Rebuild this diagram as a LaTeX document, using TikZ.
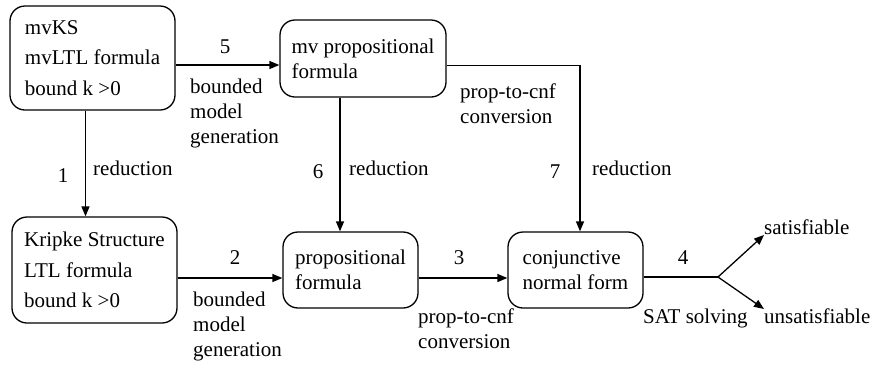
\documentclass[tikz,border=0pt]{standalone}
\usepackage{fontspec}
\setmainfont{Liberation Serif}
\usetikzlibrary{arrows.meta}
\begin{document}
\begin{tikzpicture}[x=1pt,y=-1pt,
  every node/.style={font=\fontsize{21}{25}\selectfont},
  box/.style={draw,line width=1.3pt,rounded corners=15pt,align=left,inner sep=0pt},
  bigbox/.style={box,font=\fontsize{21}{30.5}\selectfont},
  lbl/.style={inner sep=0pt,align=left},
  arr/.style={line width=1.3pt,-{Triangle[length=10pt,width=8pt]}},
  ln/.style={line width=1.3pt}]
\useasboundingbox (0,0) rectangle (872,365);
% boxes
\node[bigbox,minimum width=165pt,minimum height=104pt] (A) at (92.5,58) {mvKS\\mvLTL formula\\bound k >0};
\node[box,minimum width=166pt,minimum height=77pt] (B) at (363,58.5) {mv propositional\\formula};
\node[bigbox,minimum width=165pt,minimum height=106pt] (C) at (94.5,270) {Kripke Structure\\LTL formula\\bound k >0};
\node[box,minimum width=135pt,minimum height=76pt] (D) at (350.5,270) {propositional\\formula};
\node[box,minimum width=135pt,minimum height=76pt] (E) at (575.5,270) {conjunctive\\normal form};
\node[lbl,anchor=south west] (sat) at (764,235) {satisfiable};
\node[lbl,anchor=north west] (unsat) at (764,309) {unsatisfiable};
\coordinate (split) at (718,277);
% connectors
\draw[arr] ([yshift=-7pt]A.east) -- ([yshift=-7pt]A.east -| B.west);
\draw[arr] ([xshift=-7pt]A.south) -- ([xshift=-7pt]A.south |- C.north);
\draw[arr] ([yshift=-8pt]C.east) -- ([yshift=-8pt]C.east -| D.west);
\draw[arr] ([xshift=-23pt]B.south) -- ([xshift=-23pt]B.south |- D.north);
\draw[arr] ([yshift=-8pt]D.east) -- ([yshift=-8pt]D.east -| E.west);
\draw[arr] ([yshift=-7pt]B.east) -| ([xshift=4.5pt]E.north);
\draw[ln] ([yshift=-7pt]E.east) -- (split);
\draw[arr] (split) -- (sat.south west);
\draw[arr] (split) -- (unsat.north west);
% labels
\node[lbl] (l5) at (225,47) {5};
\node[lbl,anchor=west] (g5) at (190,113) {bounded\\model\\generation};
\node[lbl] (l1) at (63,176) {1};
\node[lbl,anchor=base west] (r1) at (93,175) {reduction};
\node[lbl] (l2) at (235,258) {2};
\node[lbl,anchor=west] (g2) at (193,326) {bounded\\model\\generation};
\node[lbl] (l6) at (318,172) {6};
\node[lbl,anchor=base west] (r6) at (349,175) {reduction};
\node[lbl] (l3) at (459,258) {3};
\node[lbl,anchor=west] (c3) at (418,329) {prop-to-cnf\\conversion};
\node[lbl,anchor=west] (c7) at (460,104) {prop-to-cnf\\conversion};
\node[lbl] (l7) at (555,172) {7};
\node[lbl,anchor=base west] (r7) at (592,175) {reduction};
\node[lbl] (l4) at (683,258) {4};
\node[lbl,anchor=west] (sat4) at (643,318) {SAT solving};
\end{tikzpicture}
\end{document}
